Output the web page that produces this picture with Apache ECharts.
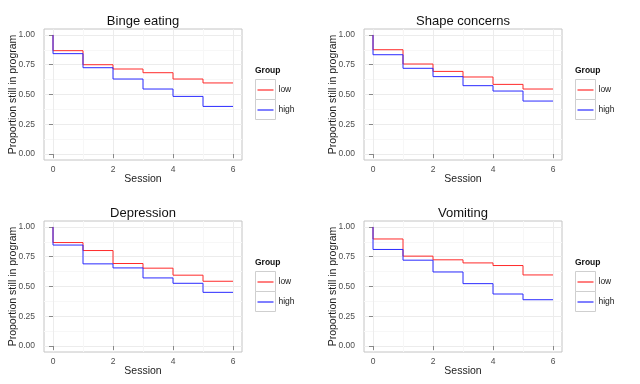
<!DOCTYPE html>
<html><head><meta charset="utf-8">
<script src="https://cdn.jsdelivr.net/npm/echarts@6/dist/echarts.min.js"></script>
<style>html,body{margin:0;padding:0;background:#fff}#c{width:640px;height:384px}</style>
</head><body><div id="c"></div>
<script>
const panelTitles = ['Binge eating', 'Shape concerns', 'Depression', 'Vomiting'];
const groups = ['low', 'high'];
const sessions = [0, 0, 1, 2, 3, 4, 5, 6];
const xTickValues = [0, 2, 4, 6];
const xMinorValues = [1, 3, 5];
const yTickValues = [0, 0.25, 0.5, 0.75, 1];
const yMinorValues = [0.125, 0.375, 0.625, 0.875];
const bingeLow = [1, 0.868, 0.75, 0.714, 0.683, 0.63, 0.597, 0.597];
const bingeHigh = [1, 0.843, 0.725, 0.63, 0.546, 0.484, 0.40, 0.40];
const shapeLow = [1, 0.876, 0.756, 0.694, 0.647, 0.585, 0.546, 0.546];
const shapeHigh = [1, 0.834, 0.72, 0.65, 0.574, 0.529, 0.445, 0.445];
const depressionLow = [1, 0.869, 0.802, 0.693, 0.654, 0.595, 0.544, 0.544];
const depressionHigh = [1, 0.848, 0.69, 0.656, 0.572, 0.527, 0.451, 0.451];
const vomitingLow = [1, 0.899, 0.755, 0.724, 0.698, 0.676, 0.597, 0.597];
const vomitingHigh = [1, 0.811, 0.721, 0.622, 0.524, 0.437, 0.389, 0.389];

const panelData = [[bingeLow, bingeHigh], [shapeLow, shapeHigh], [depressionLow, depressionHigh], [vomitingLow, vomitingHigh]];
const colors = ['#ff2a2a', '#2a2aff'];
const offsets = [[0, 0], [320, 0], [0, 192], [320, 192]];
const FONT = '"Liberation Sans", Arial, sans-serif';

const chart = echarts.init(document.getElementById('c'), null, {renderer: 'canvas', devicePixelRatio: 1});
const grid = [], xAxis = [], yAxis = [], series = [], legend = [], title = [], graphic = [];

offsets.forEach(([ox, oy], i) => {
  grid.push({left: ox + 44, top: oy + 29, width: 198, height: 131, show: true,
    backgroundColor: '#fff', borderColor: '#c4c4c4', borderWidth: 1, containLabel: false});
  xAxis.push({type: 'value', gridIndex: i, min: -0.3, max: 6.3, position: 'bottom',
    axisLine: {show: false},
    axisTick: {show: true, customValues: xTickValues, length: 4, lineStyle: {color: '#888'}},
    axisLabel: {customValues: xTickValues, fontSize: 8.5, color: '#4d4d4d', fontFamily: FONT, margin: 5},
    splitLine: {show: true, lineStyle: {color: '#ececec', width: 1}},
    name: 'Session', nameLocation: 'middle', nameGap: 14, nameMoveOverlap: false,
    nameTextStyle: {fontSize: 10.5, color: '#222', fontFamily: FONT}
  });
  xAxis.push({type: 'value', gridIndex: i, min: -0.3, max: 6.3, position: 'top',
    axisLine: {show: false},
    axisTick: {show: false, customValues: xMinorValues},
    axisLabel: {show: false, customValues: xMinorValues},
    splitLine: {show: true, lineStyle: {color: '#f7f7f7', width: 1}}
  });
  yAxis.push({type: 'value', gridIndex: i, min: -0.05, max: 1.05, position: 'left',
    axisLine: {show: false},
    axisTick: {show: true, customValues: yTickValues, length: 4, lineStyle: {color: '#888'}},
    axisLabel: {customValues: yTickValues, fontSize: 8.5, color: '#4d4d4d', fontFamily: FONT, margin: 9,
      formatter: v => v.toFixed(2)},
    splitLine: {show: true, lineStyle: {color: '#ececec', width: 1}},
    name: 'Proportion still in program', nameLocation: 'middle', nameGap: 25, nameMoveOverlap: false,
    nameTextStyle: {fontSize: 10.5, color: '#222', fontFamily: FONT}
  });
  yAxis.push({type: 'value', gridIndex: i, min: -0.05, max: 1.05, position: 'right',
    axisLine: {show: false},
    axisTick: {show: false, customValues: yMinorValues},
    axisLabel: {show: false, customValues: yMinorValues},
    splitLine: {show: true, lineStyle: {color: '#f7f7f7', width: 1}}
  });
  groups.forEach((g, k) => {
    series.push({type: 'line', name: g, xAxisIndex: i * 2, yAxisIndex: i * 2, step: 'end',
      symbol: 'none', silent: true, animation: false,
      lineStyle: {color: colors[k], width: 1}, itemStyle: {color: colors[k]},
      data: sessions.map((s, j) => [s, panelData[i][k][j]])
    });
  });
  title.push({text: 'Group', left: ox + 255, top: oy + 66.5, padding: 0,
    textStyle: {fontSize: 8.5, fontWeight: 'bold', color: '#111', fontFamily: FONT}});
  legend.push({data: groups, orient: 'vertical', left: ox + 257.5, top: oy + 80, padding: 0,
    icon: 'rect', itemGap: 0, itemWidth: 16, itemHeight: 1.2, itemTextGap: 4.5, selectedMode: false,
    textStyle: {fontSize: 8.5, color: '#222', fontFamily: FONT, lineHeight: 20}
  });
  [0, 1].forEach(k => {
    graphic.push({type: 'rect', z: -1, silent: true,
      shape: {x: ox + 255.5, y: oy + 79.5 + k * 20, width: 20, height: 20},
      style: {fill: '#fff', stroke: '#cfcfcf', lineWidth: 1}});
  });
  graphic.push({type: 'text', silent: true, x: ox + 143, y: oy + 21,
    style: {text: panelTitles[i], textAlign: 'center', textVerticalAlign: 'middle',
      font: '13px ' + FONT, fill: '#111'}});
});

chart.setOption({animation: false, backgroundColor: '#fff', grid, xAxis, yAxis, series, legend, title, graphic});
</script></body></html>
